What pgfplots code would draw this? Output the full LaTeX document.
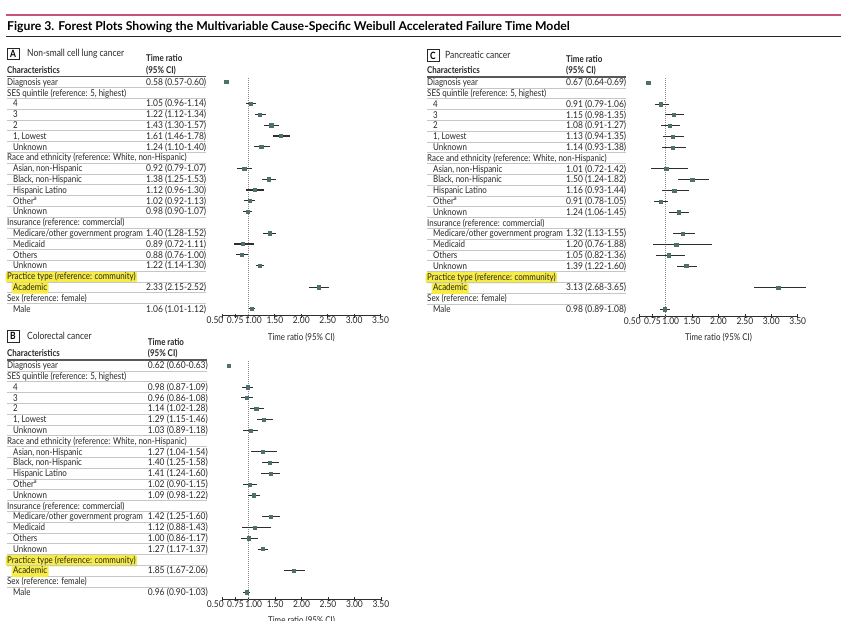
\documentclass[border=0pt]{standalone}
\usepackage{fontspec}
\setmainfont{Lato}[FakeStretch=0.845]
\newfontfamily\numfamily{Lato}[FakeStretch=0.9]
\newfontfamily\titlefamily{Lato}[FakeStretch=1.0]
\usepackage{pgfplots}
\usepackage{pgfplotstable}
\pgfplotsset{compat=1.18}

\definecolor{mk}{HTML}{4F716E}
\definecolor{ci}{HTML}{2E2E2E}
\definecolor{sep}{HTML}{C6C6C6}
\definecolor{hl}{HTML}{F6EC45}
\definecolor{pinkrule}{HTML}{C8517D}
\definecolor{txt}{HTML}{262626}
\definecolor{dotgray}{HTML}{8A8A8A}

\newcommand\tf{\fontsize{9.4}{11}\selectfont}
\newcommand\nf{\numfamily\fontsize{9.4}{11}\selectfont}
\newcommand\pf{\fontsize{10}{12}\selectfont}

% rows of the text tables (row i sits at y = -10.8 i inside a panel scope)
\newcommand\rowH[2]{\node[lab] at (0,{-10.8*(#1)}) {#2};}
\newcommand\rowM[3]{\node[lab] at (0,{-10.8*(#1)}) {#2};\node[lab,font=\nf] at (\vx,{-10.8*(#1)}) {#3};}
\newcommand\rowS[3]{\node[lab] at (6,{-10.8*(#1)}) {#2};\node[lab,font=\nf] at (\vx,{-10.8*(#1)}) {#3};}
\newcommand\rowHL[2]{\node[lab,hlbox] at (0,{-10.8*(#1)}) {#2};}
\newcommand\rowSL[3]{\node[lab,hlbox] at (6,{-10.8*(#1)}) {#2};\node[lab,font=\nf] at (\vx,{-10.8*(#1)}) {#3};}

% the rows and rules shared by the three panels
\newcommand\panelrows[1]{%
  \rowH{1}{SES quintile (reference: 5, highest)}
  \rowH{7}{Race and ethnicity (reference: White, non-Hispanic)}
  \rowH{13}{Insurance (reference: commercial)}
  \rowHL{18}{Practice type (reference: community)}
  \rowH{20}{Sex (reference: female)}
  \foreach \k in {0,...,20} \draw[sep, line width=0.6] (0,{-10.8*(\k+0.5)}) -- (#1,{-10.8*(\k+0.5)});
  \draw[ci!80, line width=1.4] (0,5.4) -- (#1,5.4);
  \node[lab,font=\tf\bfseries] at (0,{10.8*1.12}) {Characteristics};
  \node[lab,font=\tf\bfseries] at (\vx,{10.8*1.12}) {(95\% CI)};
  \node[lab,font=\tf\bfseries] at (\vx,{10.8*2.15}) {Time ratio};
}

\pgfplotsset{forest/.style={
  scale only axis, anchor=south west, width=158.6pt, height=238.1pt,
  xmin=0.5, xmax=3.5, ymin=-21.65, ymax=0.4,
  axis x line=bottom, axis y line=none, ytick=\empty,
  x axis line style={-, ci, line width=0.8pt},
  xtick={0.5,0.75,1,1.5,2,2.5,3,3.5},
  xticklabels={\hspace*{-14pt}0.50,0.75,\hspace*{10pt}1.00,1.50,2.00,2.50,3.00,3.50},
  tick align=center, major tick length=4pt,
  tick style={ci, line width=0.8pt},
  xticklabel style={font=\nf, text=txt, anchor=base, yshift=-6pt},
  xlabel={Time ratio (95\% CI)},
  xlabel style={font=\tf, text=txt, at={(axis description cs:0.5,0)}, anchor=base, yshift=-24.6pt},
  clip=false},
  ebar/.style={draw=none, mark=none, forget plot,
    error bars/.cd, x dir=both, x explicit, error mark=none,
    error bar style={ci, line width=1.1pt}},
  pt/.style={only marks, mark=square*, mark size=1.6pt, mk, forget plot}
}

\pgfplotstableread{
y tr lo hi
0 0.58 0.57 0.60
-2 1.05 0.96 1.14
-3 1.22 1.12 1.34
-4 1.43 1.30 1.57
-5 1.61 1.46 1.78
-6 1.24 1.10 1.40
-8 0.92 0.79 1.07
-9 1.38 1.25 1.53
-10 1.12 0.96 1.30
-11 1.02 0.92 1.13
-12 0.98 0.90 1.07
-14 1.40 1.28 1.52
-15 0.89 0.72 1.11
-16 0.88 0.76 1.00
-17 1.22 1.14 1.30
-19 2.33 2.15 2.52
-21 1.06 1.01 1.12
}\dataA

\pgfplotstableread{
y tr lo hi
0 0.62 0.60 0.63
-2 0.98 0.87 1.09
-3 0.96 0.86 1.08
-4 1.14 1.02 1.28
-5 1.29 1.15 1.46
-6 1.03 0.89 1.18
-8 1.27 1.04 1.54
-9 1.40 1.25 1.58
-10 1.41 1.24 1.60
-11 1.02 0.90 1.15
-12 1.09 0.98 1.22
-14 1.42 1.25 1.60
-15 1.12 0.88 1.43
-16 1.00 0.86 1.17
-17 1.27 1.17 1.37
-19 1.85 1.67 2.06
-21 0.96 0.90 1.03
}\dataB

\pgfplotstableread{
y tr lo hi
0 0.67 0.64 0.69
-2 0.91 0.79 1.06
-3 1.15 0.98 1.35
-4 1.08 0.91 1.27
-5 1.13 0.94 1.35
-6 1.14 0.93 1.38
-8 1.01 0.72 1.42
-9 1.50 1.24 1.82
-10 1.16 0.93 1.44
-11 0.91 0.78 1.05
-12 1.24 1.06 1.45
-14 1.32 1.13 1.55
-15 1.20 0.76 1.88
-16 1.05 0.82 1.36
-17 1.39 1.22 1.60
-19 3.13 2.68 3.65
-21 0.98 0.89 1.08
}\dataC

\newcommand\forestplots[1]{%
  \addplot[dotgray, line width=0.6pt, dash pattern=on 1pt off 1pt, forget plot] coordinates {(1,0.4) (1,-21.65)};
  \addplot[ebar] table[x=tr, y=y, x error minus expr=\thisrow{tr}-\thisrow{lo}, x error plus expr=\thisrow{hi}-\thisrow{tr}] {#1};
  \addplot[pt] table[x=tr, y=y] {#1};
}

\begin{document}
\begin{tikzpicture}[x=1pt, y=1pt,
  lab/.style={anchor=base west, inner sep=0pt, font=\tf, text=txt, yshift=-3.2pt},
  hlbox/.style={fill=hl, rounded corners=1.5pt, inner xsep=1.5pt, inner ysep=1pt, xshift=-1.5pt, text height=7pt, text depth=2.2pt},
  plabel/.style={draw=txt, line width=0.7, minimum width=12, minimum height=11.5, inner sep=0pt, font=\pf\bfseries}]
\useasboundingbox (0pt,0pt) rectangle (841pt,-621pt);

% figure title
\draw[pinkrule, line width=2] (6,-15) -- (841,-15);
\node[anchor=base west, inner sep=0pt, font=\titlefamily\fontsize{12.2}{14}\selectfont\bfseries] at (7,-30.8)
  {Figure 3. Forest Plots Showing the Multivariable Cause-Specific Weibull Accelerated Failure Time Model};
\draw[black!85, line width=0.9] (6,-36) -- (841,-36);

% ---------- A: non-small cell lung cancer ----------
\begin{scope}[shift={(7,-82)}]
  \def\vx{139}
  \node[plabel] at (6,{10.8*2.62}) {A};
  \node[lab,font=\pf] at (20,{10.8*2.62}) {Non-small cell lung cancer};
  \panelrows{199}
  \rowM{0}{Diagnosis year}{0.58 (0.57-0.60)}
  \rowS{2}{4}{1.05 (0.96-1.14)}
  \rowS{3}{3}{1.22 (1.12-1.34)}
  \rowS{4}{2}{1.43 (1.30-1.57)}
  \rowS{5}{1, Lowest}{1.61 (1.46-1.78)}
  \rowS{6}{Unknown}{1.24 (1.10-1.40)}
  \rowS{8}{Asian, non-Hispanic}{0.92 (0.79-1.07)}
  \rowS{9}{Black, non-Hispanic}{1.38 (1.25-1.53)}
  \rowS{10}{Hispanic Latino}{1.12 (0.96-1.30)}
  \rowS{11}{Other\textsuperscript{a}}{1.02 (0.92-1.13)}
  \rowS{12}{Unknown}{0.98 (0.90-1.07)}
  \rowS{14}{Medicare/other government program}{1.40 (1.28-1.52)}
  \rowS{15}{Medicaid}{0.89 (0.72-1.11)}
  \rowS{16}{Others}{0.88 (0.76-1.00)}
  \rowS{17}{Unknown}{1.22 (1.14-1.30)}
  \rowSL{19}{Academic}{2.33 (2.15-2.52)}
  \rowS{21}{Male}{1.06 (1.01-1.12)}
\end{scope}
\begin{axis}[forest, at={(222pt,-315.8pt)}]
  \forestplots{\dataA}
\end{axis}

% ---------- B: colorectal cancer ----------
\begin{scope}[shift={(7,-365.5)}]
  \def\vx{140.7}
  \node[plabel] at (6,{10.8*2.7}) {B};
  \node[lab,font=\pf] at (20,{10.8*2.7}) {Colorectal cancer};
  \panelrows{200}
  \rowM{0}{Diagnosis year}{0.62 (0.60-0.63)}
  \rowS{2}{4}{0.98 (0.87-1.09)}
  \rowS{3}{3}{0.96 (0.86-1.08)}
  \rowS{4}{2}{1.14 (1.02-1.28)}
  \rowS{5}{1, Lowest}{1.29 (1.15-1.46)}
  \rowS{6}{Unknown}{1.03 (0.89-1.18)}
  \rowS{8}{Asian, non-Hispanic}{1.27 (1.04-1.54)}
  \rowS{9}{Black, non-Hispanic}{1.40 (1.25-1.58)}
  \rowS{10}{Hispanic Latino}{1.41 (1.24-1.60)}
  \rowS{11}{Other\textsuperscript{a}}{1.02 (0.90-1.15)}
  \rowS{12}{Unknown}{1.09 (0.98-1.22)}
  \rowS{14}{Medicare/other government program}{1.42 (1.25-1.60)}
  \rowS{15}{Medicaid}{1.12 (0.88-1.43)}
  \rowS{16}{Others}{1.00 (0.86-1.17)}
  \rowS{17}{Unknown}{1.27 (1.17-1.37)}
  \rowSL{19}{Academic}{1.85 (1.67-2.06)}
  \rowS{21}{Male}{0.96 (0.90-1.03)}
\end{scope}
\begin{axis}[forest, at={(222.3pt,-599.3pt)}]
  \forestplots{\dataB}
\end{axis}

% ---------- C: pancreatic cancer ----------
\begin{scope}[shift={(427,-82.5)}]
  \def\vx{139}
  \node[plabel] at (6,{10.8*2.5}) {C};
  \node[lab,font=\pf] at (18,{10.8*2.5}) {Pancreatic cancer};
  \panelrows{199}
  \rowM{0}{Diagnosis year}{0.67 (0.64-0.69)}
  \rowS{2}{4}{0.91 (0.79-1.06)}
  \rowS{3}{3}{1.15 (0.98-1.35)}
  \rowS{4}{2}{1.08 (0.91-1.27)}
  \rowS{5}{1, Lowest}{1.13 (0.94-1.35)}
  \rowS{6}{Unknown}{1.14 (0.93-1.38)}
  \rowS{8}{Asian, non-Hispanic}{1.01 (0.72-1.42)}
  \rowS{9}{Black, non-Hispanic}{1.50 (1.24-1.82)}
  \rowS{10}{Hispanic Latino}{1.16 (0.93-1.44)}
  \rowS{11}{Other\textsuperscript{a}}{0.91 (0.78-1.05)}
  \rowS{12}{Unknown}{1.24 (1.06-1.45)}
  \rowS{14}{Medicare/other government program}{1.32 (1.13-1.55)}
  \rowS{15}{Medicaid}{1.20 (0.76-1.88)}
  \rowS{16}{Others}{1.05 (0.82-1.36)}
  \rowS{17}{Unknown}{1.39 (1.22-1.60)}
  \rowSL{19}{Academic}{3.13 (2.68-3.65)}
  \rowS{21}{Male}{0.98 (0.89-1.08)}
\end{scope}
\begin{axis}[forest, at={(639.3pt,-316.3pt)}, width=158.4pt]
  \forestplots{\dataC}
\end{axis}
\end{tikzpicture}
\end{document}
